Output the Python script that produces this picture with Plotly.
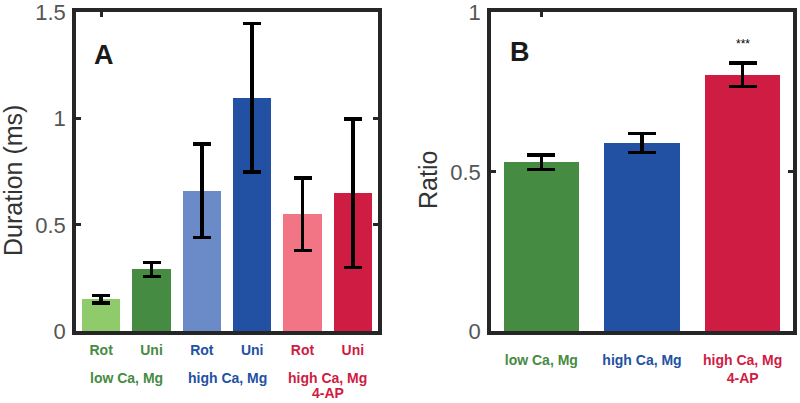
import plotly.graph_objects as go

# panel A: duration per condition (Rot / Uni)
dur_labels = ["Rot", "Uni", "Rot", "Uni", "Rot", "Uni"]
dur_values = [0.15, 0.29, 0.66, 1.10, 0.55, 0.65]
dur_errors = [0.018, 0.033, 0.22, 0.35, 0.17, 0.35]
dur_groups = ["low Ca, Mg", "high Ca, Mg", "high Ca, Mg<br>4-AP"]

# panel B: ratio per condition
ratio_labels = ["low Ca, Mg", "high Ca, Mg", "high Ca, Mg<br>4-AP"]
ratio_values = [0.53, 0.59, 0.805]
ratio_errors = [0.023, 0.03, 0.037]
ratio_marks = ["", "", "***"]

BAR_A = ["#8fcb6b", "#468b42", "#6a8ac8", "#2251a3", "#f27586", "#cf1c42"]
BAR_B = ["#468b42", "#2251a3", "#cf1c42"]
TEXT_COL = ["#468b42", "#2251a3", "#cf1c42"]
FRAME = "#262626"
FONT = "Liberation Sans, Arial"
TICK_FONT = dict(family=FONT, size=22, color="#555555")

H = 403
Y_DOM = [0.1787, 0.9702]
XA_DOM = [0.095, 0.4725]
XB_DOM = [0.61375, 0.99125]


def colored(text, col):
    return f'<span style="color:{col}"><b>{text}</b></span>'


xa = list(range(1, len(dur_values) + 1))
xb = list(range(1, len(ratio_values) + 1))

fig = go.Figure()
fig.add_trace(go.Bar(
    x=xa, y=dur_values, width=0.76,
    marker=dict(color=BAR_A, line=dict(width=0)),
    error_y=dict(type="data", array=dur_errors, color="black", thickness=3.5, width=9),
    xaxis="x", yaxis="y",
))
fig.add_trace(go.Bar(
    x=xb, y=ratio_values, width=0.75,
    marker=dict(color=BAR_B, line=dict(width=0)),
    error_y=dict(type="data", array=ratio_errors, color="black", thickness=3.5, width=14),
    xaxis="x2", yaxis="y2",
))
# empty traces so the top tick axes get drawn
fig.add_trace(go.Scatter(x=[], y=[], xaxis="x3", yaxis="y"))
fig.add_trace(go.Scatter(x=[], y=[], xaxis="x4", yaxis="y2"))

frame = dict(showline=True, linecolor=FRAME, linewidth=3.5, mirror=True,
             showgrid=False, zeroline=False, automargin=False)
yticks = dict(ticks="inside", ticklen=5, tickwidth=3, tickcolor=FRAME,
              tickfont=TICK_FONT, ticklabelstandoff=2)
toptick = dict(side="top", tickvals=[1], showticklabels=False, ticks="inside",
               ticklen=5, tickwidth=3, tickcolor=FRAME, showgrid=False,
               zeroline=False, automargin=False)

fig.update_layout(
    width=800, height=H,
    margin=dict(l=0, r=0, t=0, b=0),
    paper_bgcolor="white", plot_bgcolor="white",
    showlegend=False,
    bargap=0,
    xaxis=dict(domain=XA_DOM, range=[0.5, 6.5], anchor="y",
               tickvals=xa,
               ticktext=[colored(t, TEXT_COL[i // 2]) for i, t in enumerate(dur_labels)],
               ticks="", tickfont=dict(family=FONT, size=14),
               ticklabelstandoff=3, **frame),
    yaxis=dict(domain=Y_DOM, range=[0, 1.503], anchor="x",
               tickvals=[0, 0.5, 1, 1.5], ticktext=["0", "0.5", "1", "1.5"],
               **yticks, **{**frame, "mirror": "ticks"}),
    xaxis2=dict(domain=XB_DOM, range=[0.5, 3.5], anchor="y2",
                tickvals=xb,
                ticktext=[colored(t, TEXT_COL[i]) for i, t in enumerate(ratio_labels)],
                ticks="", tickfont=dict(family=FONT, size=14),
                ticklabelstandoff=13, **frame),
    yaxis2=dict(domain=Y_DOM, range=[0, 1.002], anchor="x2",
                tickvals=[0, 0.5, 1], ticktext=["0", "0.5", "1"],
                **yticks, **{**frame, "mirror": "ticks"}),
    xaxis3=dict(overlaying="x", range=[0.5, 6.5], anchor="y", **toptick),
    xaxis4=dict(overlaying="x2", range=[0.5, 3.5], anchor="y2", **toptick),
)

# group labels under panel A, one annotation per line (tighter line spacing)
for i, g in enumerate(dur_groups):
    for j, line in enumerate(g.split("<br>")):
        fig.add_annotation(
            x=1.5 + 2 * i, xref="x", y=1 - (378 + 15 * j) / H, yref="paper",
            xanchor="center", yanchor="middle",
            text=colored(line, TEXT_COL[i]), showarrow=False,
            font=dict(family=FONT, size=14),
        )

# significance marks over panel B
for x, v, e, m in zip(xb, ratio_values, ratio_errors, ratio_marks):
    if m:
        fig.add_annotation(x=x, y=v + e + 0.06, xref="x2", yref="y2", text=m,
                           showarrow=False, font=dict(family=FONT, size=12, color="black"))

# panel letters
fig.add_annotation(x=104 / 800, y=1 - 55 / H, xref="paper", yref="paper", text="<b>A</b>",
                   xanchor="center", yanchor="middle", showarrow=False,
                   font=dict(family=FONT, size=27, color="#1a1a1a"))
fig.add_annotation(x=520 / 800, y=1 - 52 / H, xref="paper", yref="paper", text="<b>B</b>",
                   xanchor="center", yanchor="middle", showarrow=False,
                   font=dict(family=FONT, size=27, color="#1a1a1a"))

# axis titles
fig.add_annotation(x=13 / 800, y=1 - 181 / H, xref="paper", yref="paper", text="Duration (ms)",
                   xanchor="center", yanchor="middle", textangle=-90, showarrow=False,
                   font=dict(family=FONT, size=25, color="#333333"))
fig.add_annotation(x=428 / 800, y=1 - 180 / H, xref="paper", yref="paper", text="Ratio",
                   xanchor="center", yanchor="middle", textangle=-90, showarrow=False,
                   font=dict(family=FONT, size=25, color="#333333"))

# drop the default 8px page margin so the figure sits at the window corner
fig.write_html("out.html", config=dict(displayModeBar=False),
               post_script="document.body.style.margin = '0';")
